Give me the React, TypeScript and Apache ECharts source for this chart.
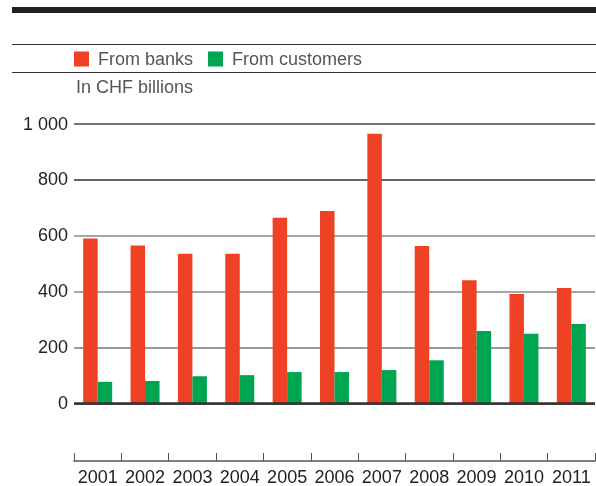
import React, { useEffect, useRef } from "react";
import * as echarts from "echarts";

const years = ["2001", "2002", "2003", "2004", "2005", "2006", "2007", "2008", "2009", "2010", "2011"];
const fromBanks = [589, 564, 535, 535, 663, 687, 963, 562, 440, 391, 412];
const fromCustomers = [77, 80, 97, 101, 112, 112, 119, 154, 259, 249, 284];
const yTicks = [0, 200, 400, 600, 800, 1000];

const FONT = "'Liberation Sans', Arial, Helvetica, sans-serif";
const RED = "#EF4123";
const GREEN = "#00A551";

export default function App() {
  const ref = useRef<HTMLDivElement>(null);
  useEffect(() => {
    document.body.style.margin = "0";
    const chart = echarts.init(ref.current!, null, { renderer: "svg" });
    chart.setOption({
      animation: false,
      textStyle: { fontFamily: FONT },
      grid: { left: 74, right: 1, top: 123.5, bottom: 79.3, containLabel: false },
      legend: {
        left: 74,
        top: 50,
        itemWidth: 15,
        itemHeight: 15,
        itemGap: 15,
        icon: "rect",
        padding: 0,
        textStyle: { fontSize: 18, color: "#555", fontFamily: FONT, padding: [0, 0, 0, 4] },
        data: ["From banks", "From customers"],
      },
      graphic: [
        { type: "rect", shape: { x: 12, y: 7, width: 584, height: 6 }, style: { fill: "#231F20" } },
        { type: "line", shape: { x1: 12, y1: 44.5, x2: 596, y2: 44.5 }, style: { stroke: "#333", lineWidth: 1 } },
        { type: "line", shape: { x1: 12, y1: 72.5, x2: 596, y2: 72.5 }, style: { stroke: "#333", lineWidth: 1 } },
        {
          type: "text",
          x: 76,
          y: 87,
          style: { text: "In CHF billions", fontSize: 18, fill: "#555", fontFamily: FONT, verticalAlign: "middle" },
        },
      ],
      xAxis: {
        type: "category",
        data: years,
        position: "bottom",
        offset: 57.6,
        axisLine: { onZero: false, lineStyle: { color: "#555", width: 1.5 } },
        axisTick: { show: true, interval: 0, inside: true, length: 8, lineStyle: { color: "#555", width: 1 } },
        axisLabel: { interval: 0, color: "#222", fontSize: 18, fontFamily: FONT, margin: 7 },
        splitLine: { show: false },
      },
      yAxis: {
        type: "value",
        min: 0,
        max: 1000,
        interval: 200,
        axisLine: { show: false },
        axisTick: { show: false },
        axisLabel: {
          color: "#222",
          fontSize: 18,
          fontFamily: FONT,
          margin: 6,
          formatter: (v: number) => (yTicks.includes(v) ? String(v).replace(/\B(?=(\d{3})+(?!\d))/g, " ") : ""),
        },
        splitLine: {
          lineStyle: { color: ["#333", "#777", "#888", "#888", "#333", "#444"], width: 1.5 },
        },
      },
      series: [
        {
          name: "From banks",
          type: "bar",
          data: fromBanks,
          barWidth: 14.5,
          barGap: "0%",
          itemStyle: { color: RED },
          markLine: {
            silent: true,
            symbol: "none",
            label: { show: false },
            lineStyle: { color: "#333", width: 2.5, type: "solid" },
            data: [{ yAxis: 0 }],
            z: 10,
          },
        },
        {
          name: "From customers",
          type: "bar",
          data: fromCustomers,
          barWidth: 14.5,
          barGap: "0%",
          itemStyle: { color: GREEN },
        },
      ],
    });
    return () => chart.dispose();
  }, []);
  return <div ref={ref} style={{ position: "fixed", left: 0, top: 0, width: 596, height: 486 }} />;
}
